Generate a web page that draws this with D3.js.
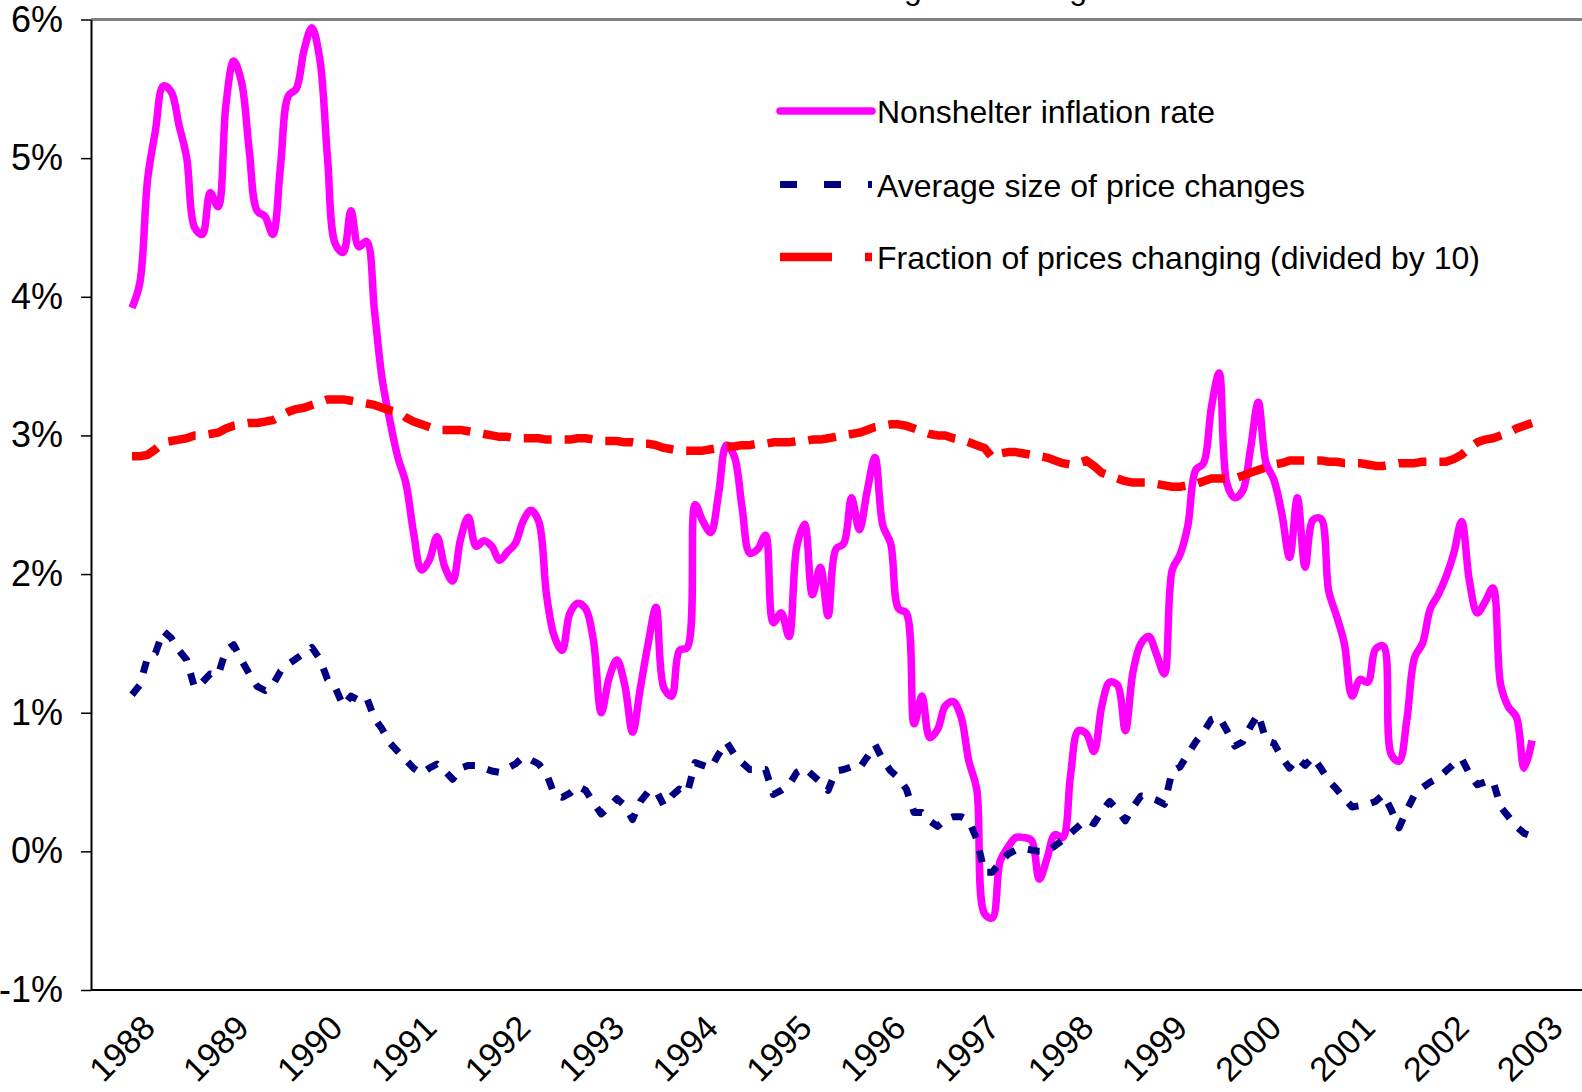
<!DOCTYPE html>
<meta charset="utf-8">
<style>
    body { margin: 0; background: #fff; }
    text { font-family: "Liberation Sans", Arial, sans-serif; fill: #000; }
</style>
<svg width="1582" height="1092"></svg>
<script src="https://d3js.org/d3.v7.min.js"></script>
<script>

    var years = ["1988", "1989", "1990", "1991", "1992", "1993", "1994", "1995",
        "1996", "1997", "1998", "1999", "2000", "2001", "2002", "2003"];

    var yTicks = [-1, 0, 1, 2, 3, 4, 5, 6];

    // monthly, Jan 1988 .. Dec 2002 (percent)
    var nonshelter = [
        3.92, 4.10, 4.85, 5.20, 5.52, 5.48, 5.24, 5.00, 4.50, 4.45, 4.75, 4.65,
        5.38, 5.70, 5.55, 5.05, 4.62, 4.58, 4.45, 4.95, 5.45, 5.50, 5.78, 5.94,
        5.72, 5.00, 4.38, 4.32, 4.62, 4.36, 4.40, 3.90, 3.40, 3.10, 2.84, 2.66,
        2.30, 2.03, 2.10, 2.27, 2.05, 1.95, 2.25, 2.41, 2.20, 2.24, 2.20, 2.10,
        2.16, 2.22, 2.38, 2.46, 2.38, 1.85, 1.55, 1.45, 1.72, 1.79, 1.75, 1.52,
        1.00, 1.25, 1.38, 1.20, 0.86, 1.18, 1.50, 1.76, 1.18, 1.12, 1.45, 1.47,
        2.50, 2.38, 2.30, 2.58, 2.93, 2.85, 2.48, 2.15, 2.18, 2.28, 1.65, 1.72,
        1.55, 2.20, 2.36, 1.85, 2.05, 1.70, 2.18, 2.22, 2.55, 2.32, 2.60, 2.84,
        2.35, 2.22, 1.75, 1.72, 0.92, 1.12, 0.82, 0.88, 1.05, 1.08, 0.97, 0.65,
        0.45, -0.45, -0.48, -0.07, 0.03, 0.10, 0.10, 0.08, -0.20, -0.05, 0.12, 0.10,
        0.55, 0.87, 0.85, 0.72, 1.05, 1.22, 1.20, 0.87, 1.30, 1.50, 1.55, 1.42,
        1.28, 2.03, 2.14, 2.35, 2.75, 2.80, 3.20, 3.45, 2.65, 2.55, 2.60, 2.90,
        3.24, 2.80, 2.68, 2.44, 2.12, 2.55, 2.05, 2.39, 2.40, 1.88, 1.70, 1.50,
        1.12, 1.24, 1.22, 1.46, 1.48, 0.70, 0.65, 0.95, 1.40, 1.50, 1.75, 1.85,
        1.98, 2.15, 2.38, 1.95, 1.72, 1.80, 1.90, 1.20, 1.04, 0.97, 0.60, 0.80
    ];

    var avgSize = [
        1.13, 1.20, 1.40, 1.43, 1.59, 1.54, 1.45, 1.38, 1.18, 1.22, 1.28, 1.27,
        1.45, 1.49, 1.38, 1.28, 1.19, 1.16, 1.20, 1.30, 1.35, 1.39, 1.43, 1.47,
        1.39, 1.24, 1.18, 1.05, 1.12, 1.09, 1.11, 0.96, 0.88, 0.78, 0.72, 0.66,
        0.60, 0.56, 0.60, 0.63, 0.58, 0.52, 0.60, 0.62, 0.62, 0.60, 0.58, 0.57,
        0.60, 0.63, 0.68, 0.66, 0.63, 0.56, 0.41, 0.39, 0.42, 0.47, 0.44, 0.35,
        0.27, 0.32, 0.38, 0.33, 0.23, 0.36, 0.43, 0.44, 0.33, 0.40, 0.45, 0.42,
        0.64, 0.62, 0.60, 0.70, 0.79, 0.70, 0.64, 0.59, 0.59, 0.59, 0.41, 0.44,
        0.48, 0.57, 0.60, 0.55, 0.50, 0.44, 0.58, 0.59, 0.61, 0.60, 0.68, 0.77,
        0.66, 0.58, 0.53, 0.45, 0.28, 0.28, 0.22, 0.18, 0.23, 0.25, 0.25, 0.22,
        0.09, -0.15, -0.15, -0.08, -0.02, 0.01, 0.02, 0.01, 0.00, 0.00, 0.04, 0.08,
        0.13, 0.18, 0.23, 0.20, 0.29, 0.36, 0.30, 0.22, 0.32, 0.40, 0.39, 0.37,
        0.34, 0.58, 0.61, 0.70, 0.79, 0.86, 0.95, 0.97, 0.87, 0.76, 0.79, 0.90,
        0.99, 0.80, 0.78, 0.68, 0.60, 0.67, 0.62, 0.68, 0.60, 0.51, 0.45, 0.38,
        0.32, 0.33, 0.34, 0.36, 0.41, 0.30, 0.17, 0.30, 0.41, 0.46, 0.50, 0.53,
        0.58, 0.63, 0.67, 0.56, 0.48, 0.50, 0.51, 0.32, 0.25, 0.18, 0.13, 0.11
    ];

    var fracChanging = [
        2.85, 2.85, 2.86, 2.90, 2.95, 2.96, 2.97, 2.98, 3.00, 3.00, 3.01, 3.02,
        3.05, 3.07, 3.08, 3.09, 3.09, 3.10, 3.11, 3.14, 3.17, 3.19, 3.20, 3.22,
        3.24, 3.26, 3.26, 3.26, 3.25, 3.24, 3.23, 3.22, 3.20, 3.18, 3.17, 3.13,
        3.10, 3.08, 3.06, 3.04, 3.04, 3.04, 3.04, 3.03, 3.02, 3.01, 3.00, 2.99,
        2.99, 2.98, 2.98, 2.98, 2.98, 2.97, 2.97, 2.97, 2.97, 2.98, 2.98, 2.97,
        2.96, 2.96, 2.96, 2.95, 2.95, 2.94, 2.94, 2.93, 2.91, 2.90, 2.89, 2.89,
        2.89, 2.89, 2.90, 2.91, 2.92, 2.92, 2.93, 2.93, 2.94, 2.94, 2.95, 2.95,
        2.95, 2.96, 2.96, 2.97, 2.97, 2.98, 2.99, 3.00, 3.01, 3.02, 3.04, 3.06,
        3.07, 3.08, 3.08, 3.07, 3.05, 3.03, 3.01, 3.00, 3.00, 2.98, 2.97, 2.95,
        2.93, 2.91, 2.84, 2.87, 2.88, 2.88, 2.87, 2.86, 2.85, 2.84, 2.82, 2.80,
        2.79, 2.80, 2.82, 2.78, 2.73, 2.71, 2.69, 2.67, 2.66, 2.66, 2.66, 2.65,
        2.64, 2.63, 2.63, 2.64, 2.65, 2.67, 2.69, 2.69, 2.69, 2.69, 2.71, 2.73,
        2.75, 2.77, 2.79, 2.80, 2.82, 2.82, 2.82, 2.82, 2.82, 2.81, 2.81, 2.80,
        2.80, 2.80, 2.79, 2.78, 2.78, 2.79, 2.80, 2.80, 2.80, 2.81, 2.81, 2.81,
        2.81, 2.83, 2.86, 2.91, 2.95, 2.97, 2.98, 3.00, 3.02, 3.05, 3.07, 3.09
    ];

    var svg = d3.select("svg"),
        width = +svg.attr("width"),
        height = +svg.attr("height");

    var plotLeft = 91, plotTop = 19.5, plotBottom = 990;

    var x = d3.scaleLinear().domain([0, 179]).range([132, 1532]);
    var y = d3.scaleLinear().domain([-1, 6]).range([plotBottom, plotTop]);

    // title, mostly cut off above the picture
    svg.append("text")
        .attr("x", 694)
        .attr("y", -1.5)
        .attr("font-size", 32)
        .text("Inflation: Pricing and Changes");

    // plot frame
    svg.append("line")
        .attr("x1", plotLeft).attr("x2", width)
        .attr("y1", plotTop).attr("y2", plotTop)
        .attr("stroke", "#808080")
        .attr("stroke-width", 3);

    svg.append("line")
        .attr("x1", plotLeft).attr("x2", width)
        .attr("y1", plotBottom).attr("y2", plotBottom)
        .attr("stroke", "#000")
        .attr("stroke-width", 2);

    var yAxis = svg.append("g")
        .attr("transform", "translate(" + plotLeft + ",0)")
        .call(d3.axisLeft(y)
            .tickValues(yTicks)
            .tickFormat(function (d) { return d + "%"; })
            .tickSize(10)
            .tickSizeOuter(0)
            .tickPadding(18));

    yAxis.select(".domain").attr("stroke", "#000").attr("stroke-width", 2);
    yAxis.selectAll(".tick line").attr("stroke", "#000").attr("stroke-width", 1.5);
    yAxis.selectAll(".tick text")
        .attr("font-size", 36)
        .attr("font-family", "Liberation Sans, Arial, sans-serif")
        .attr("fill", "#000");

    // rotated year labels
    svg.append("g")
        .selectAll("text")
        .data(years)
        .enter().append("text")
        .attr("font-size", 34)
        .attr("text-anchor", "end")
        .attr("transform", function (d, i) {
            return "translate(" + (x(i * 12) + 25) + ",1030) rotate(-45)";
        })
        .text(function (d) { return d; });

    var series = [
        { name: "Nonshelter inflation rate", values: nonshelter, color: "#FF00FF", width: 7.5, dash: null, curve: d3.curveCatmullRom.alpha(0.5), legendDash: null },
        { name: "Average size of price changes", values: avgSize, color: "#000080", width: 7, dash: "12,13", curve: d3.curveLinear, legendDash: "17,27" },
        { name: "Fraction of prices changing (divided by 10)", values: fracChanging, color: "#FF0000", width: 8.5, dash: "28,13", curve: d3.curveLinear, legendDash: "52,33" }
    ];

    var lines = svg.append("g").attr("fill", "none");

    series.forEach(function (s) {
        var line = d3.line()
            .x(function (d, i) { return x(i); })
            .y(function (d) { return y(d); })
            .curve(s.curve);

        lines.append("path")
            .datum(s.values)
            .attr("d", line)
            .attr("stroke", s.color)
            .attr("stroke-width", s.width)
            .attr("stroke-linejoin", "round")
            .attr("stroke-dasharray", s.dash);
    });

    // legend
    var legend = svg.append("g")
        .selectAll("g")
        .data(series)
        .enter().append("g")
        .attr("transform", function (d, i) {
            return "translate(780," + [111, 184.5, 257][i] + ")";
        });

    legend.append("line")
        .attr("x1", 0).attr("x2", 92)
        .attr("stroke", function (d) { return d.color; })
        .attr("stroke-width", function (d) { return d.width; })
        .attr("stroke-linecap", function (d) { return d.dash ? "butt" : "round"; })
        .attr("stroke-dasharray", function (d) { return d.legendDash; });

    legend.append("text")
        .attr("x", 97)
        .attr("y", 12)
        .attr("font-size", 32)
        .text(function (d) { return d.name; });

</script>
